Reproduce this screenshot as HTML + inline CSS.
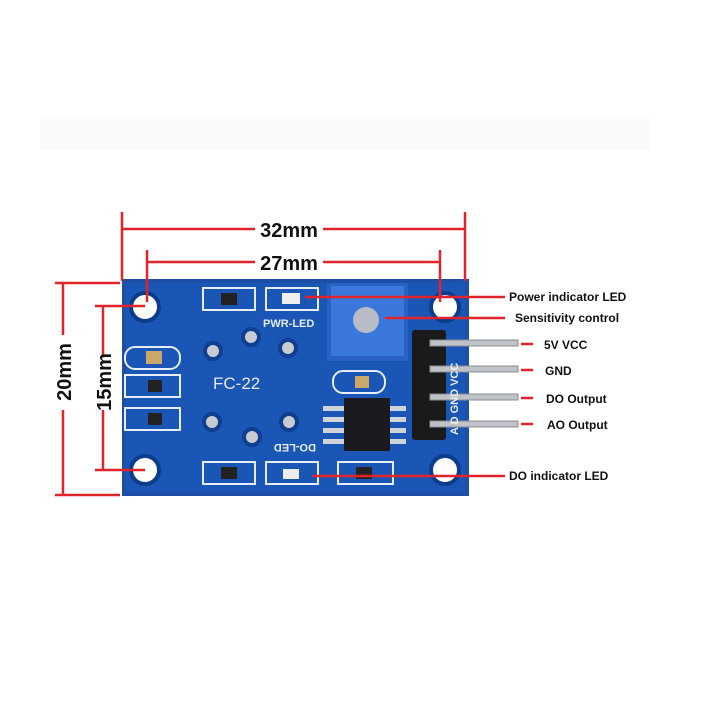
<!DOCTYPE html>
<html><head><style>body{margin:0;background:#fff}svg{display:block}</style></head><body>
<svg width="722" height="722" viewBox="0 0 722 722" xmlns="http://www.w3.org/2000/svg" font-family="Liberation Sans, sans-serif">
<rect x="40" y="118" width="610" height="32" fill="#fafafa"/>
<rect x="122" y="279" width="347" height="217" fill="#1d4fa8"/>
<rect x="126" y="283" width="339" height="209" fill="#1a56b6"/>
<g fill="#fff" stroke="#0c3c8c" stroke-width="4">
<circle cx="145" cy="307" r="14"/><circle cx="445" cy="307" r="14"/>
<circle cx="145" cy="470" r="14"/><circle cx="445" cy="470" r="14"/>
</g>
<g fill="none" stroke="#e8eef8" stroke-width="2">
<rect x="203" y="288" width="52" height="22"/><rect x="266" y="288" width="52" height="22"/>
<rect x="125" y="347" width="55" height="22" rx="10"/><rect x="125" y="375" width="55" height="22"/><rect x="125" y="408" width="55" height="22"/>
<rect x="203" y="462" width="52" height="22"/><rect x="266" y="462" width="52" height="22"/><rect x="338" y="462" width="55" height="22"/>
<rect x="333" y="371" width="52" height="22" rx="10"/>
</g>
<g fill="#222"><rect x="221" y="293" width="16" height="12"/><rect x="148" y="380" width="14" height="12"/><rect x="148" y="413" width="14" height="12"/><rect x="221" y="467" width="16" height="12"/><rect x="356" y="467" width="16" height="12"/></g>
<g fill="#c9a86a"><rect x="146" y="351" width="16" height="13"/><rect x="355" y="376" width="14" height="12"/></g>
<g fill="#eee"><rect x="282" y="293" width="18" height="11"/><rect x="283" y="469" width="16" height="10"/></g>
<g fill="#c8ccd2" stroke="#0f3f8f" stroke-width="4">
<circle cx="213" cy="351" r="8"/><circle cx="251" cy="337" r="8"/><circle cx="288" cy="348" r="8"/>
<circle cx="212" cy="422" r="8"/><circle cx="252" cy="437" r="8"/><circle cx="289" cy="422" r="8"/>
</g>
<text x="213" y="389" font-size="17" fill="#e6ecf6">FC-22</text>
<text x="263" y="327" font-size="11" fill="#e6ecf6" font-weight="bold">PWR-LED</text>
<text x="268" y="452" font-size="11" fill="#e6ecf6" font-weight="bold" transform="rotate(180 292 448)">DO-LED</text>
<rect x="327" y="283" width="81" height="78" fill="#2a62c4"/>
<rect x="331" y="286" width="73" height="70" fill="#3a78dc"/>
<circle cx="366" cy="320" r="13" fill="#b8bcc4"/>
<g fill="#cfd3da"><rect x="323" y="406" width="22" height="5"/><rect x="323" y="417" width="22" height="5"/><rect x="323" y="428" width="22" height="5"/><rect x="323" y="439" width="22" height="5"/>
<rect x="388" y="406" width="18" height="5"/><rect x="388" y="417" width="18" height="5"/><rect x="388" y="428" width="18" height="5"/><rect x="388" y="439" width="18" height="5"/></g>
<rect x="344" y="398" width="46" height="53" fill="#1b1b1f"/>
<rect x="412" y="330" width="34" height="110" fill="#1a1a1a" rx="3"/>
<g fill="#bfc2c6" stroke="#8a8d92" stroke-width="1">
<rect x="430" y="340" width="88" height="6"/><rect x="430" y="366" width="88" height="6"/>
<rect x="430" y="394" width="88" height="6"/><rect x="430" y="421" width="88" height="6"/>
</g>
<g fill="#e6ecf6" font-size="11" font-weight="bold"><text transform="translate(458 435) rotate(-90)">A D GND VCC</text></g>
<g stroke="#e0242a" stroke-width="2.5" fill="none">
<line x1="122" y1="212" x2="122" y2="281"/><line x1="465" y1="212" x2="465" y2="281"/>
<line x1="122" y1="229" x2="255" y2="229"/><line x1="323" y1="229" x2="465" y2="229"/>
<line x1="147" y1="250" x2="147" y2="302"/><line x1="440" y1="250" x2="440" y2="302"/>
<line x1="147" y1="262" x2="255" y2="262"/><line x1="323" y1="262" x2="440" y2="262"/>
<line x1="55" y1="283" x2="120" y2="283"/><line x1="55" y1="495" x2="120" y2="495"/>
<line x1="63" y1="283" x2="63" y2="335"/><line x1="63" y1="410" x2="63" y2="495"/>
<line x1="95" y1="306" x2="145" y2="306"/><line x1="95" y1="470" x2="145" y2="470"/>
<line x1="103" y1="306" x2="103" y2="355"/><line x1="103" y1="410" x2="103" y2="470"/>
<line x1="305" y1="297" x2="505" y2="297"/><line x1="385" y1="318" x2="505" y2="318"/>
<line x1="312" y1="476" x2="505" y2="476"/>
<line x1="521" y1="344" x2="533" y2="344"/><line x1="521" y1="370" x2="533" y2="370"/>
<line x1="521" y1="398" x2="533" y2="398"/><line x1="521" y1="424" x2="533" y2="424"/>
</g>
<g font-weight="bold" fill="#111">
<text x="289" y="237" font-size="20" text-anchor="middle">32mm</text>
<text x="289" y="270" font-size="20" text-anchor="middle">27mm</text>
<text transform="translate(71 372) rotate(-90)" font-size="20" text-anchor="middle">20mm</text>
<text transform="translate(111 382) rotate(-90)" font-size="20" text-anchor="middle">15mm</text>
<g font-size="12"><text x="509" y="301">Power indicator LED</text><text x="515" y="322">Sensitivity control</text>
<text x="544" y="349">5V VCC</text><text x="545" y="375">GND</text><text x="546" y="403">DO Output</text><text x="547" y="429">AO Output</text>
<text x="509" y="480">DO indicator LED</text></g>
</g>
</svg></body></html>
